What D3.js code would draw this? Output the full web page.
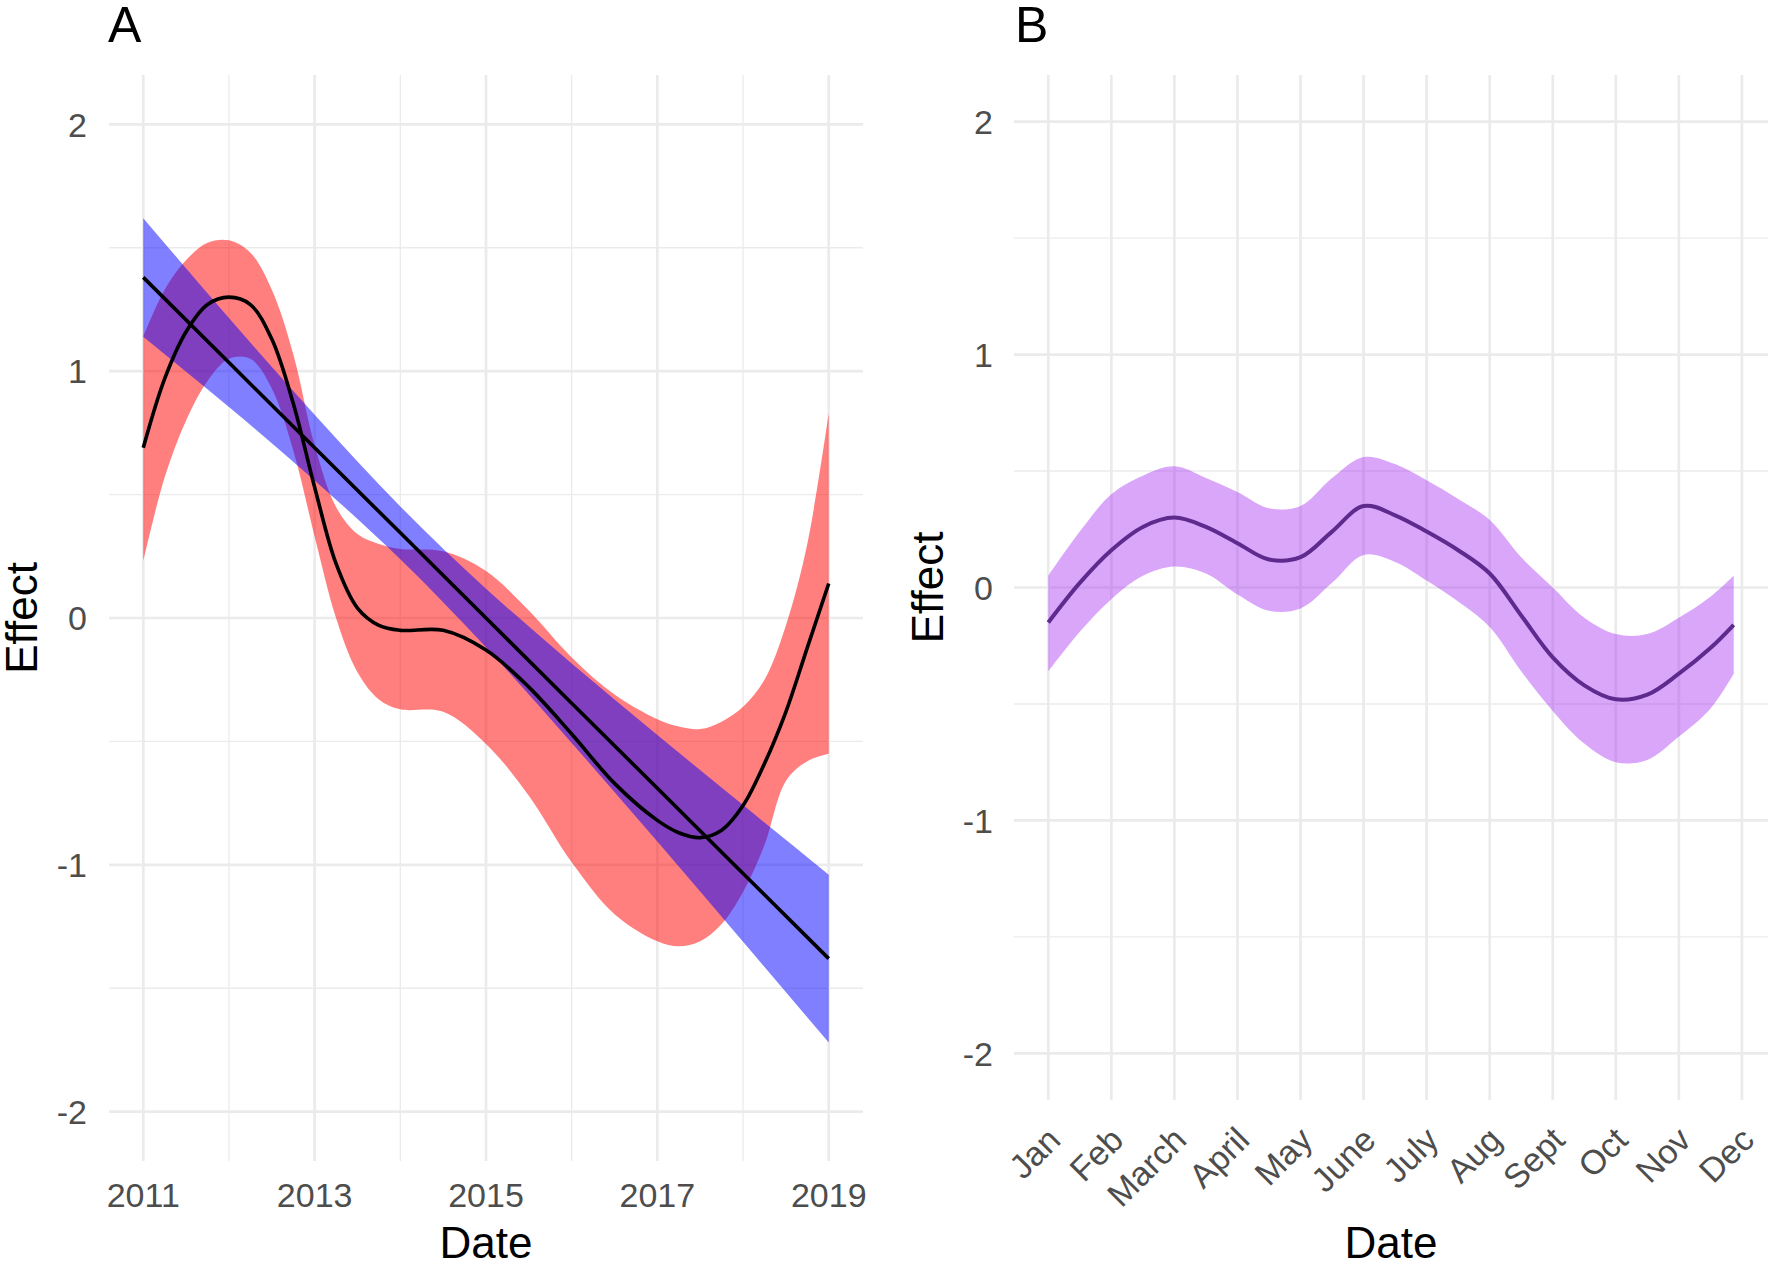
<!DOCTYPE html>
<html>
<head>
<meta charset="utf-8">
<script src="https://cdn.jsdelivr.net/npm/d3@7"></script>
<style>
  body { margin: 0; background: #fff; }
  text { font-family: "Liberation Sans", Arial, sans-serif; }
</style>
</head>
<body>
<svg id="chart" width="1770" height="1264"></svg>
<script>
// ---- panel A : smooth (red) and linear (blue) fits over years ----
var smoothYears = [2011, 2011.25, 2011.5, 2011.75, 2012, 2012.25, 2012.5, 2012.75, 2013, 2013.25, 2013.5, 2013.75,
    2014, 2014.5, 2015, 2015.5, 2016, 2016.5, 2017, 2017.25, 2017.5, 2017.75, 2018, 2018.25, 2018.5, 2018.75, 2019];
var smoothFit = [0.69, 0.97, 1.16, 1.27, 1.30, 1.27, 1.13, 0.87, 0.53, 0.22, 0.04, -0.03,
    -0.05, -0.05, -0.13, -0.28, -0.47, -0.67, -0.82, -0.87, -0.89, -0.86, -0.76, -0.59, -0.38, -0.12, 0.14];
var smoothHi = [1.14, 1.33, 1.45, 1.52, 1.53, 1.48, 1.33, 1.07, 0.70, 0.45, 0.34, 0.30,
    0.28, 0.27, 0.19, 0.03, -0.16, -0.31, -0.41, -0.44, -0.45, -0.42, -0.36, -0.25, -0.03, 0.30, 0.83];
var smoothLo = [0.23, 0.57, 0.80, 0.96, 1.05, 1.05, 0.93, 0.68, 0.33, 0.00, -0.22, -0.33,
    -0.37, -0.38, -0.51, -0.72, -0.99, -1.20, -1.31, -1.33, -1.31, -1.24, -1.11, -0.92, -0.66, -0.58, -0.55];

var linYears = [2011, 2012, 2013, 2014, 2015, 2016, 2017, 2018, 2019];
var linFit = [1.38, 1.035, 0.69, 0.345, 0.0, -0.345, -0.69, -1.035, -1.38];
var linHi = [1.62, 1.215, 0.823, 0.452, 0.119, -0.184, -0.474, -0.758, -1.04];
var linLo = [1.14, 0.855, 0.557, 0.238, -0.119, -0.506, -0.906, -1.312, -1.72];

var yearTicks = [2011, 2013, 2015, 2017, 2019];
var yearMinor = [2012, 2014, 2016, 2018];

// ---- panel B : seasonal effect by month ----
var monthPos = [1, 1.5, 2, 2.5, 3, 3.5, 4, 4.5, 5, 5.5, 6, 6.5, 7, 7.5, 8, 8.5, 9, 9.5, 10, 10.5, 11, 11.5, 11.87];
var seasonFit = [-0.15, 0.02, 0.16, 0.26, 0.30, 0.26, 0.19, 0.12, 0.13, 0.24, 0.35, 0.31, 0.24, 0.16, 0.06, -0.12,
    -0.30, -0.42, -0.48, -0.46, -0.37, -0.26, -0.16];
var seasonHi = [0.05, 0.24, 0.40, 0.48, 0.52, 0.47, 0.41, 0.34, 0.35, 0.47, 0.56, 0.53, 0.46, 0.38, 0.29, 0.13,
    0.0, -0.13, -0.20, -0.20, -0.13, -0.04, 0.05];
var seasonLo = [-0.36, -0.19, -0.05, 0.05, 0.09, 0.06, -0.03, -0.10, -0.09, 0.02, 0.14, 0.11, 0.03, -0.06, -0.17, -0.36,
    -0.53, -0.67, -0.75, -0.74, -0.64, -0.52, -0.37];
var monthLabels = ["Jan", "Feb", "March", "April", "May", "June", "July", "Aug", "Sept", "Oct", "Nov", "Dec"];

var effectTicks = [-2, -1, 0, 1, 2];
var effectMinor = [-1.5, -0.5, 0.5, 1.5];

var svg = d3.select("#chart");
var gridCol = "#ebebeb";
var tickCol = "#4d4d4d";

// helper: expand a range 5% on each side like ggplot does
var expand = function(lo, hi) {
    var d = (hi - lo) * 0.05;
    return [lo - d, hi + d];
};

var draw_grid = function(g, x, y, xMajor, xMinor, yMajor, yMinor) {
    var xr = x.range(), yr = y.range();
    g.selectAll(".hminor").data(yMinor).enter().append("line")
        .attr("x1", xr[0]).attr("x2", xr[1])
        .attr("y1", function(d) { return y(d); }).attr("y2", function(d) { return y(d); })
        .attr("stroke", gridCol).attr("stroke-width", 1.3);
    g.selectAll(".vminor").data(xMinor).enter().append("line")
        .attr("y1", yr[0]).attr("y2", yr[1])
        .attr("x1", function(d) { return x(d); }).attr("x2", function(d) { return x(d); })
        .attr("stroke", gridCol).attr("stroke-width", 1.3);
    g.selectAll(".hmajor").data(yMajor).enter().append("line")
        .attr("x1", xr[0]).attr("x2", xr[1])
        .attr("y1", function(d) { return y(d); }).attr("y2", function(d) { return y(d); })
        .attr("stroke", gridCol).attr("stroke-width", 2.7);
    g.selectAll(".vmajor").data(xMajor).enter().append("line")
        .attr("y1", yr[0]).attr("y2", yr[1])
        .attr("x1", function(d) { return x(d); }).attr("x2", function(d) { return x(d); })
        .attr("stroke", gridCol).attr("stroke-width", 2.7);
};

var draw_y_labels = function(g, y, xRight, yTitleX) {
    g.selectAll(".ytick").data(effectTicks).enter().append("text")
        .attr("x", xRight).attr("y", function(d) { return y(d); })
        .attr("dy", "0.36em")
        .attr("text-anchor", "end")
        .attr("font-size", 34).attr("fill", tickCol)
        .text(function(d) { return d; });
    var yr = y.range();
    g.append("text")
        .attr("transform", "translate(" + yTitleX + "," + ((yr[0] + yr[1]) / 2) + ") rotate(-90)")
        .attr("text-anchor", "middle")
        .attr("font-size", 44).attr("fill", "#000")
        .text("Effect");
};

var zip = function(xs, a, b, c) {
    return xs.map(function(v, i) { return {x: v, fit: a[i], hi: b[i], lo: c[i]}; });
};

////////////////////////////////////////////////////////////////////////////////
// panel A
var xA = d3.scaleLinear().domain(expand(2011, 2019)).range([109, 863]);
var yA = d3.scaleLinear().domain([-2.2, 2.2]).range([1161, 75]);
var gA = svg.append("g");
draw_grid(gA, xA, yA, yearTicks, yearMinor, effectTicks, effectMinor);

var smoothData = zip(smoothYears, smoothFit, smoothHi, smoothLo);
var linData = zip(linYears, linFit, linHi, linLo);

gA.append("path").datum(smoothData)
    .attr("d", d3.area().curve(d3.curveCatmullRom)
        .x(function(d) { return xA(d.x); })
        .y0(function(d) { return yA(d.lo); })
        .y1(function(d) { return yA(d.hi); }))
    .attr("fill", "red").attr("fill-opacity", 0.5);
gA.append("path").datum(linData)
    .attr("d", d3.area().curve(d3.curveNatural)
        .x(function(d) { return xA(d.x); })
        .y0(function(d) { return yA(d.lo); })
        .y1(function(d) { return yA(d.hi); }))
    .attr("fill", "blue").attr("fill-opacity", 0.5);
gA.append("path").datum(smoothData)
    .attr("d", d3.line().curve(d3.curveCatmullRom)
        .x(function(d) { return xA(d.x); })
        .y(function(d) { return yA(d.fit); }))
    .attr("fill", "none").attr("stroke", "#000").attr("stroke-width", 3.6);
gA.append("path").datum(linData)
    .attr("d", d3.line()
        .x(function(d) { return xA(d.x); })
        .y(function(d) { return yA(d.fit); }))
    .attr("fill", "none").attr("stroke", "#000").attr("stroke-width", 3.6);

gA.selectAll(".xtick").data(yearTicks).enter().append("text")
    .attr("x", function(d) { return xA(d); }).attr("y", 1207)
    .attr("text-anchor", "middle")
    .attr("font-size", 34).attr("fill", tickCol)
    .text(function(d) { return d; });
gA.append("text").attr("x", 486).attr("y", 1258)
    .attr("text-anchor", "middle").attr("font-size", 44).text("Date");
draw_y_labels(gA, yA, 87, 37);
gA.append("text").attr("x", 108).attr("y", 42).attr("font-size", 50).text("A");

////////////////////////////////////////////////////////////////////////////////
// panel B
var xB = d3.scaleLinear().domain(expand(1, 11.87)).range([1014, 1768]);
var yB = d3.scaleLinear().domain([-2.2, 2.2]).range([1100, 75]);
var gB = svg.append("g");
var monthIdx = monthLabels.map(function(d, i) { return i + 1; });
draw_grid(gB, xB, yB, monthIdx, [], effectTicks, effectMinor);

var seasonData = zip(monthPos, seasonFit, seasonHi, seasonLo);
gB.append("path").datum(seasonData)
    .attr("d", d3.area().curve(d3.curveCatmullRom)
        .x(function(d) { return xB(d.x); })
        .y0(function(d) { return yB(d.lo); })
        .y1(function(d) { return yB(d.hi); }))
    .attr("fill", "#a020f0").attr("fill-opacity", 0.4);
gB.append("path").datum(seasonData)
    .attr("d", d3.line().curve(d3.curveCatmullRom)
        .x(function(d) { return xB(d.x); })
        .y(function(d) { return yB(d.fit); }))
    .attr("fill", "none").attr("stroke", "#5e2a8e").attr("stroke-width", 4);

gB.selectAll(".xtick").data(monthLabels).enter().append("text")
    .attr("transform", function(d, i) {
        return "translate(" + (xB(i + 1) + 14) + ",1142) rotate(-45)";
    })
    .attr("text-anchor", "end")
    .attr("font-size", 34).attr("fill", tickCol)
    .text(function(d) { return d; });
gB.append("text").attr("x", 1391).attr("y", 1258)
    .attr("text-anchor", "middle").attr("font-size", 44).text("Date");
draw_y_labels(gB, yB, 993, 943);
gB.append("text").attr("x", 1015).attr("y", 42).attr("font-size", 50).text("B");
</script>
</body>
</html>
